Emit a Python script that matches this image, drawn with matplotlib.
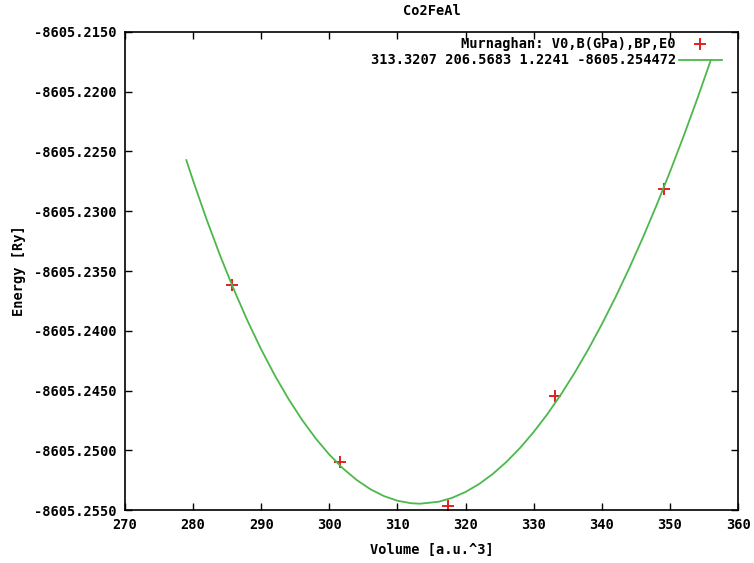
import matplotlib
matplotlib.use('Agg')
import matplotlib.pyplot as plt
from matplotlib.ticker import FormatStrFormatter, MultipleLocator

# measured E(V) points
volume = [285.7, 301.5, 317.4, 333.2, 349.1]
energy = [-8605.2362, -8605.2510, -8605.2547, -8605.2455, -8605.2281]

# fitted Murnaghan curve
fit_volume = [279, 280, 282, 284, 286, 288, 290, 292, 294, 296, 298, 300,
              302, 304, 306, 308, 310, 312, 313.32, 316, 318, 320, 322, 324,
              326, 328, 330, 332, 334, 336, 338, 340, 342, 344, 346, 348,
              350, 352, 354, 356]
fit_energy = [-8605.225724, -8605.227446, -8605.230717, -8605.233762,
              -8605.236582, -8605.239184, -8605.241570, -8605.243742,
              -8605.245705, -8605.247461, -8605.249014, -8605.250366,
              -8605.251521, -8605.252481, -8605.253250, -8605.253830,
              -8605.254223, -8605.254433, -8605.254472, -8605.254312,
              -8605.253987, -8605.253488, -8605.252818, -8605.251979,
              -8605.250974, -8605.249805, -8605.248474, -8605.246983,
              -8605.245334, -8605.243531, -8605.241573, -8605.239464,
              -8605.237206, -8605.234799, -8605.232248, -8605.229552,
              -8605.226716, -8605.223738, -8605.220621, -8605.217369]

label_points = 'Murnaghan: V0,B(GPa),BP,E0'
label_fit    = '313.3207 206.5683 1.2241 -8605.254472'

font = {'family': 'DejaVu Sans Mono', 'weight': 'bold', 'size': 9.8}
plt.rcParams['font.family'] = 'DejaVu Sans Mono'
plt.rcParams['font.weight'] = 'bold'
plt.rcParams['font.size'] = 9.8

fig = plt.figure(figsize=(7.54, 5.63), dpi=100)
axes = fig.add_axes([0.1658, 0.0941, 0.9788 - 0.1658, 0.9432 - 0.0941])

axes.plot(volume, energy, linestyle='none', marker='+', color='#e02020',
          markersize=8, markeredgewidth=1.4, label=label_points)
axes.plot(fit_volume, fit_energy, color='#4cb84c', linewidth=1.3,
          label=label_fit)

axes.set_xlim(270, 360)
axes.set_ylim(-8605.2550, -8605.2150)
axes.xaxis.set_major_locator(MultipleLocator(10))
axes.yaxis.set_major_locator(MultipleLocator(0.005))
axes.yaxis.set_major_formatter(FormatStrFormatter('%.4f'))
axes.tick_params(direction='in', length=5, width=1, top=True, right=True,
                 pad=6, labelsize=9.8)
for spine in axes.spines.values():
    spine.set_linewidth(1.2)

axes.set_title('Co2FeAl', fontdict=font, pad=12)
axes.set_xlabel('Volume [a.u.^3]', fontdict=font, labelpad=8)
axes.set_ylabel('Energy [Ry]', fontdict=font, labelpad=6)

axes.legend(loc='upper right', bbox_to_anchor=(0.983, 1.0), frameon=False,
            markerfirst=False, handlelength=3.2, handletextpad=0.2,
            labelspacing=0.15, borderaxespad=0.0, prop=font)

fig.savefig('out.png', dpi=100)
